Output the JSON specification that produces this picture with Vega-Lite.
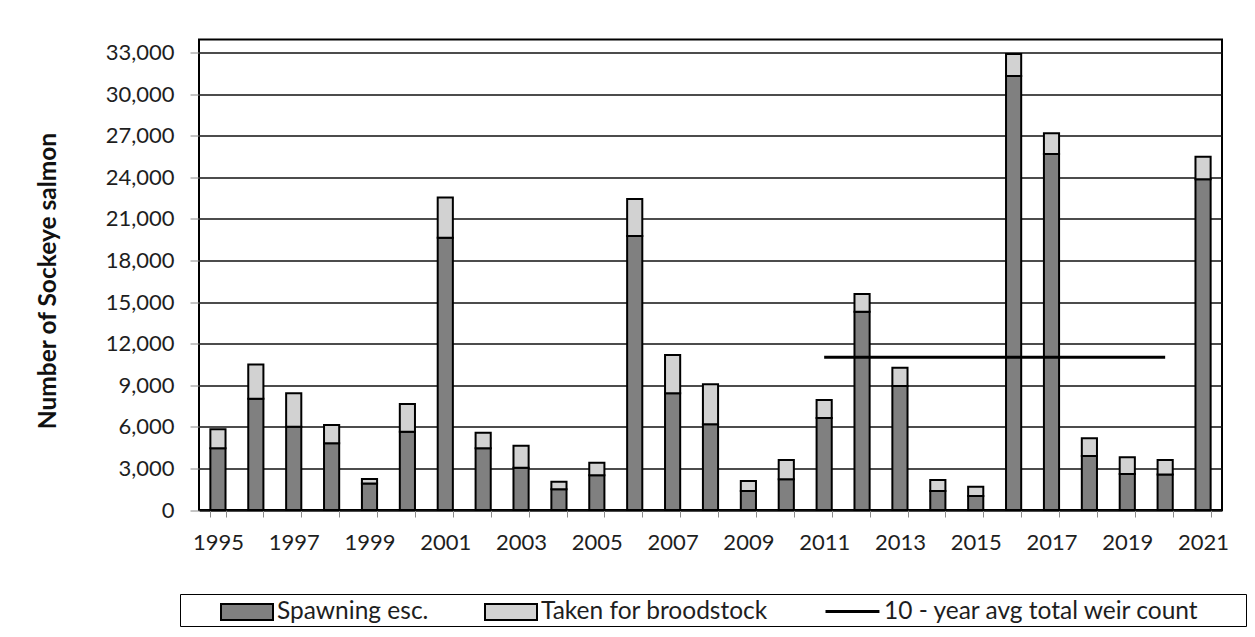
{
  "$schema": "https://vega.github.io/schema/vega-lite/v6.json",
  "autosize": {"type": "none"},
  "width": 1023,
  "height": 470.5,
  "padding": {"left": 199, "top": 39.5, "right": 33, "bottom": 127},
  "background": "white",
  "config": {
    "font": "Lato",
    "view": {"stroke": "black", "strokeWidth": 2},
    "axis": {"labelFont": "Lato", "titleFont": "Lato", "labelColor": "#1e1e1e", "titleColor": "#111"},
    "legend": {"labelFont": "Lato", "labelFontSize": 24.5, "labelColor": "#1e1e1e", "labelLimit": 600, "symbolOpacity": 1}
  },
  "datasets": {
    "counts": [
      {"year": 1995, "series": "Spawning esc.", "fish": 4450, "rank": 1},
      {"year": 1995, "series": "Taken for broodstock", "fish": 1370, "rank": 2},
      {"year": 1996, "series": "Spawning esc.", "fish": 8030, "rank": 1},
      {"year": 1996, "series": "Taken for broodstock", "fish": 2470, "rank": 2},
      {"year": 1997, "series": "Spawning esc.", "fish": 6010, "rank": 1},
      {"year": 1997, "series": "Taken for broodstock", "fish": 2410, "rank": 2},
      {"year": 1998, "series": "Spawning esc.", "fish": 4810, "rank": 1},
      {"year": 1998, "series": "Taken for broodstock", "fish": 1320, "rank": 2},
      {"year": 1999, "series": "Spawning esc.", "fish": 1920, "rank": 1},
      {"year": 1999, "series": "Taken for broodstock", "fish": 320, "rank": 2},
      {"year": 2000, "series": "Spawning esc.", "fish": 5650, "rank": 1},
      {"year": 2000, "series": "Taken for broodstock", "fish": 2000, "rank": 2},
      {"year": 2001, "series": "Spawning esc.", "fish": 19650, "rank": 1},
      {"year": 2001, "series": "Taken for broodstock", "fish": 2900, "rank": 2},
      {"year": 2002, "series": "Spawning esc.", "fish": 4450, "rank": 1},
      {"year": 2002, "series": "Taken for broodstock", "fish": 1130, "rank": 2},
      {"year": 2003, "series": "Spawning esc.", "fish": 3050, "rank": 1},
      {"year": 2003, "series": "Taken for broodstock", "fish": 1590, "rank": 2},
      {"year": 2004, "series": "Spawning esc.", "fish": 1490, "rank": 1},
      {"year": 2004, "series": "Taken for broodstock", "fish": 550, "rank": 2},
      {"year": 2005, "series": "Spawning esc.", "fish": 2500, "rank": 1},
      {"year": 2005, "series": "Taken for broodstock", "fish": 910, "rank": 2},
      {"year": 2006, "series": "Spawning esc.", "fish": 19770, "rank": 1},
      {"year": 2006, "series": "Taken for broodstock", "fish": 2670, "rank": 2},
      {"year": 2007, "series": "Spawning esc.", "fish": 8420, "rank": 1},
      {"year": 2007, "series": "Taken for broodstock", "fish": 2760, "rank": 2},
      {"year": 2008, "series": "Spawning esc.", "fish": 6180, "rank": 1},
      {"year": 2008, "series": "Taken for broodstock", "fish": 2890, "rank": 2},
      {"year": 2009, "series": "Spawning esc.", "fish": 1370, "rank": 1},
      {"year": 2009, "series": "Taken for broodstock", "fish": 720, "rank": 2},
      {"year": 2010, "series": "Spawning esc.", "fish": 2210, "rank": 1},
      {"year": 2010, "series": "Taken for broodstock", "fish": 1400, "rank": 2},
      {"year": 2011, "series": "Spawning esc.", "fish": 6640, "rank": 1},
      {"year": 2011, "series": "Taken for broodstock", "fish": 1300, "rank": 2},
      {"year": 2012, "series": "Spawning esc.", "fish": 14310, "rank": 1},
      {"year": 2012, "series": "Taken for broodstock", "fish": 1270, "rank": 2},
      {"year": 2013, "series": "Spawning esc.", "fish": 8950, "rank": 1},
      {"year": 2013, "series": "Taken for broodstock", "fish": 1320, "rank": 2},
      {"year": 2014, "series": "Spawning esc.", "fish": 1370, "rank": 1},
      {"year": 2014, "series": "Taken for broodstock", "fish": 800, "rank": 2},
      {"year": 2015, "series": "Spawning esc.", "fish": 1010, "rank": 1},
      {"year": 2015, "series": "Taken for broodstock", "fish": 670, "rank": 2},
      {"year": 2016, "series": "Spawning esc.", "fish": 31310, "rank": 1},
      {"year": 2016, "series": "Taken for broodstock", "fish": 1590, "rank": 2},
      {"year": 2017, "series": "Spawning esc.", "fish": 25690, "rank": 1},
      {"year": 2017, "series": "Taken for broodstock", "fish": 1490, "rank": 2},
      {"year": 2018, "series": "Spawning esc.", "fish": 3900, "rank": 1},
      {"year": 2018, "series": "Taken for broodstock", "fish": 1270, "rank": 2},
      {"year": 2019, "series": "Spawning esc.", "fish": 2600, "rank": 1},
      {"year": 2019, "series": "Taken for broodstock", "fish": 1200, "rank": 2},
      {"year": 2020, "series": "Spawning esc.", "fish": 2570, "rank": 1},
      {"year": 2020, "series": "Taken for broodstock", "fish": 1040, "rank": 2},
      {"year": 2021, "series": "Spawning esc.", "fish": 23860, "rank": 1},
      {"year": 2021, "series": "Taken for broodstock", "fish": 1630, "rank": 2}
    ],
    "tenYearAvg": [
      {"year": 2011, "series": "10 - year avg total weir count", "fish": 11030},
      {"year": 2020, "series": "10 - year avg total weir count", "fish": 11030}
    ]
  },
  "layer": [
    {
      "data": {"name": "counts"},
      "mark": {"type": "bar", "stroke": "black", "strokeWidth": 2, "strokeJoin": "miter"},
      "encoding": {
        "x": {
          "field": "year",
          "type": "ordinal",
          "scale": {"paddingInner": 0.6, "paddingOuter": 0.3},
          "axis": {
            "title": null,
            "domain": false,
            "tickBand": "extent",
            "tickColor": "#8a8a8a",
            "tickSize": 7,
            "tickWidth": 1,
            "labelAngle": 0,
            "labelFontSize": 22,
            "labelPadding": 15,
            "labelOverlap": false,
            "labelExpr": "datum.value % 2 == 1 ? datum.label : ''"
          }
        },
        "y": {
          "field": "fish",
          "type": "quantitative",
          "stack": "zero",
          "scale": {"domain": [0, 33950], "nice": false, "zero": true},
          "axis": {
            "title": "Number of Sockeye salmon",
            "titleFontSize": 24.5,
            "titleFontWeight": "bold",
            "titleAngle": 270,
            "titleX": -151,
            "titleY": 241,
            "titleAlign": "center",
            "titleBaseline": "middle",
            "values": [0, 3000, 6000, 9000, 12000, 15000, 18000, 21000, 24000, 27000, 30000, 33000],
            "format": ",d",
            "domain": false,
            "tickColor": "#8a8a8a",
            "tickSize": 9,
            "labelFontSize": 22,
            "labelPadding": 16,
            "grid": true,
            "gridColor": "#111111",
            "gridWidth": 1.5
          }
        },
        "fill": {
          "field": "series",
          "type": "nominal",
          "scale": {
            "domain": ["Spawning esc.", "Taken for broodstock"],
            "range": ["#808080", "#d2d2d2"]
          },
          "legend": {
            "title": null,
            "orient": "none",
            "direction": "horizontal",
            "legendX": 21,
            "legendY": 558,
            "padding": 0,
            "labelOffset": 29,
            "columnPadding": 52,
            "symbolType": "M-1,-0.6154H3V0.6154H-1Z",
            "symbolSize": 676,
            "symbolStrokeColor": "black",
            "symbolStrokeWidth": 2
          }
        },
        "order": {"field": "rank", "type": "quantitative"}
      }
    },
    {
      "data": {"name": "tenYearAvg"},
      "mark": {"type": "line", "strokeWidth": 3, "strokeCap": "butt"},
      "encoding": {
        "x": {"field": "year", "type": "ordinal"},
        "y": {"field": "fish", "type": "quantitative"},
        "stroke": {
          "field": "series",
          "type": "nominal",
          "scale": {"domain": ["10 - year avg total weir count"], "range": ["#000000"]},
          "legend": {
            "title": "\u00a0",
            "titleOrient": "left",
            "titleFontSize": 2,
            "titlePadding": 641,
            "orient": "none",
            "direction": "horizontal",
            "legendX": -19,
            "legendY": 554.5,
            "padding": 3,
            "strokeColor": "black",
            "labelOffset": 31,
            "symbolType": "M-1,0H3.15M30.6,0",
            "symbolSize": 676,
            "symbolStrokeColor": "black",
            "symbolStrokeWidth": 3
          }
        }
      }
    }
  ]
}
